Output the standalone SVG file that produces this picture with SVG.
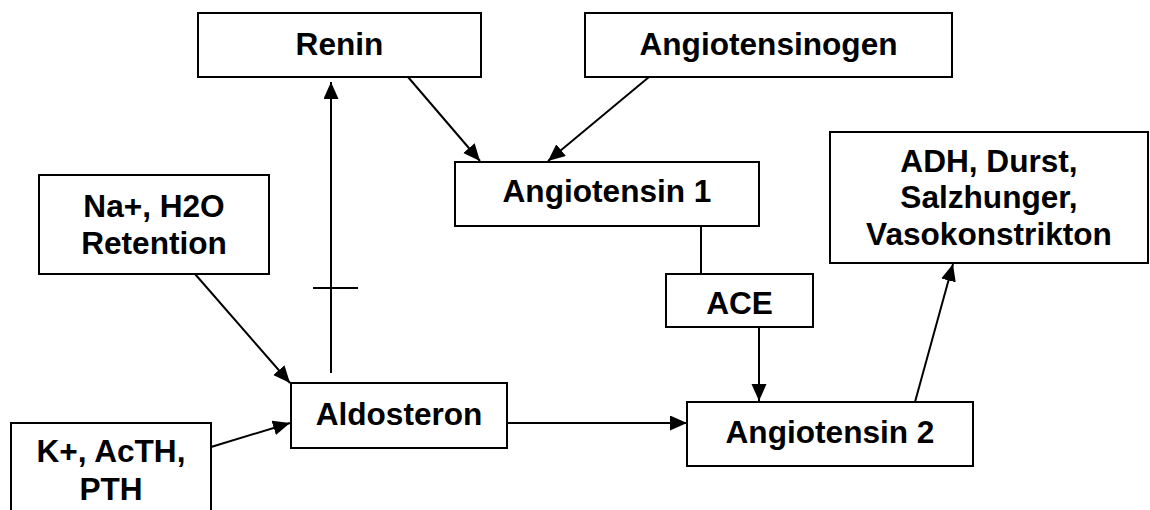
<svg xmlns="http://www.w3.org/2000/svg" width="1150" height="510" viewBox="0 0 1150 510">
  <style>
    .box { fill: #ffffff; stroke: #000000; stroke-width: 2; }
    .lbl { font-family: "Liberation Sans", Arial, sans-serif; font-weight: bold; font-size: 31.6px; fill: #000000; text-anchor: middle; }
    .con { stroke: #000000; stroke-width: 2; fill: none; }
    .arr { marker-end: url(#ah); }
  </style>
  <defs>
    <marker id="ah" markerUnits="userSpaceOnUse" markerWidth="18" markerHeight="16" refX="17" refY="7.5" orient="auto">
      <path d="M0,0 L17,7.5 L0,15 z" fill="#000000"/>
    </marker>
  </defs>
  <rect width="1150" height="510" fill="#ffffff"/>

  <g id="renin">
    <rect class="box" x="198" y="13" width="283" height="64"/>
    <text class="lbl" x="339.5" y="55">Renin</text>
  </g>
  <g id="angiotensinogen">
    <rect class="box" x="585" y="13" width="367" height="64"/>
    <text class="lbl" x="768.5" y="55">Angiotensinogen</text>
  </g>
  <g id="angiotensin1">
    <rect class="box" x="455" y="162" width="304" height="64"/>
    <text class="lbl" x="607" y="202">Angiotensin 1</text>
  </g>
  <g id="adh">
    <rect class="box" x="830" y="132" width="318" height="131"/>
    <text class="lbl" x="989" y="172">ADH, Durst,</text>
    <text class="lbl" x="989" y="208">Salzhunger,</text>
    <text class="lbl" x="989" y="245">Vasokonstrikton</text>
  </g>
  <g id="na">
    <rect class="box" x="39" y="175" width="230" height="99"/>
    <text class="lbl" x="154" y="217">Na+, H2O</text>
    <text class="lbl" x="154" y="254">Retention</text>
  </g>
  <g id="ace">
    <rect class="box" x="666" y="274" width="147" height="53"/>
    <text class="lbl" x="739.5" y="314">ACE</text>
  </g>
  <g id="aldosteron">
    <rect class="box" x="291" y="383" width="216" height="65"/>
    <text class="lbl" x="399" y="425">Aldosteron</text>
  </g>
  <g id="angiotensin2">
    <rect class="box" x="687" y="402" width="286" height="64"/>
    <text class="lbl" x="830" y="443">Angiotensin 2</text>
  </g>
  <g id="kplus">
    <rect class="box" x="11" y="423" width="200" height="100"/>
    <text class="lbl" x="111" y="462">K+, AcTH,</text>
    <text class="lbl" x="111" y="500">PTH</text>
  </g>

  <g id="connectors">
    <line class="con arr" x1="408" y1="77" x2="480" y2="161"/>
    <line class="con arr" x1="649" y1="77" x2="548" y2="161"/>
    <line class="con arr" x1="331" y1="373" x2="331" y2="82"/>
    <line class="con" x1="313" y1="288" x2="358" y2="288"/>
    <line class="con arr" x1="195" y1="274" x2="290" y2="383"/>
    <line class="con arr" x1="211" y1="447" x2="290" y2="423"/>
    <line class="con arr" x1="507" y1="423" x2="687" y2="423"/>
    <line class="con" x1="701" y1="226" x2="701" y2="274"/>
    <line class="con arr" x1="759" y1="327" x2="759" y2="401"/>
    <line class="con arr" x1="915" y1="402" x2="953" y2="264"/>
  </g>
</svg>
